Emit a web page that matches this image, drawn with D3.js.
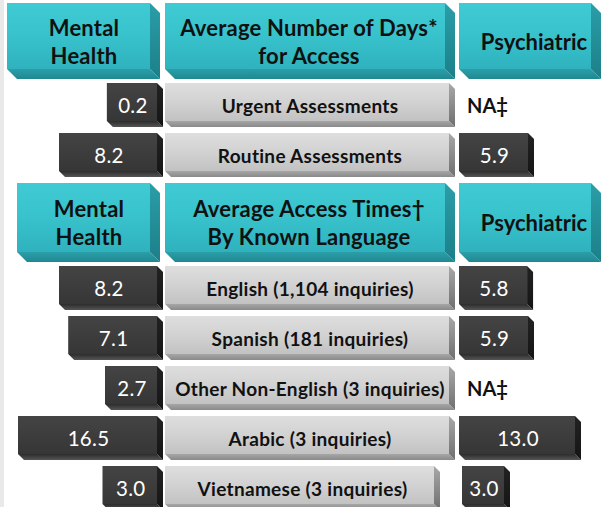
<!DOCTYPE html>
<html>
<head>
<meta charset="utf-8">
<script src="https://cdn.jsdelivr.net/npm/d3@7"></script>
<style>
html,body{margin:0;padding:0;background:#fff;}
svg{display:block;}
</style>
</head>
<body>
<svg id="chart" width="601" height="507"></svg>
<script>
// ---------- data ----------
const header1Left = ["Mental", "Health"];
const header1Mid = ["Average Number of Days*", "for Access"];
const header1Right = ["Psychiatric"];
const section1Labels = ["Urgent Assessments", "Routine Assessments"];
const section1Mental = [0.2, 8.2];
const section1Psych = [null, 5.9];

const header2Left = ["Mental", "Health"];
const header2Mid = ["Average Access Times\u2020", "By Known Language"];
const header2Right = ["Psychiatric"];
const section2Labels = ["English (1,104 inquiries)", "Spanish (181 inquiries)", "Other Non-English (3 inquiries)", "Arabic (3 inquiries)", "Vietnamese (3 inquiries)"];
const section2Mental = [8.2, 7.1, 2.7, 16.5, 3.0];
const section2Psych = [5.8, 5.9, null, 13.0, 3.0];
const naLabel = "NA\u2021";

// ---------- setup ----------
const svg = d3.select("#chart");
const defs = svg.append("defs");
const FONT = "Lato, 'Open Sans', sans-serif";

function grad(id, stops) {
  const g = defs.append("linearGradient").attr("id", id)
    .attr("x1", 0).attr("y1", 0).attr("x2", 0).attr("y2", 1);
  stops.forEach(s => g.append("stop").attr("offset", s[0]).attr("stop-color", s[1]));
}
grad("tealFront", [[0, "#40cad4"], [0.5, "#38c2cc"], [1, "#2fb2bd"]]);
grad("tealRight", [[0, "#2a9ea8"], [1, "#1c7f88"]]);
grad("tealBottom", [[0, "#2a9fa9"], [1, "#1f8891"]]);
grad("greyFront", [[0, "#dedede"], [0.5, "#d2d2d2"], [1, "#c2c2c2"]]);
grad("greyRight", [[0, "#a8a8a8"], [1, "#6f6f6f"]]);
grad("greyBottom", [[0, "#a6a6a6"], [1, "#8a8a8a"]]);
grad("darkFront", [[0, "#444444"], [1, "#363636"]]);
grad("darkRight", [[0, "#222222"], [1, "#151515"]]);
grad("darkBottom", [[0, "#2c2c2c"], [1, "#555555"]]);

const styles = {
  teal: {front: "url(#tealFront)", right: "url(#tealRight)", bottom: "url(#tealBottom)"},
  grey: {front: "url(#greyFront)", right: "url(#greyRight)", bottom: "url(#greyBottom)"},
  dark: {front: "url(#darkFront)", right: "url(#darkRight)", bottom: "url(#darkBottom)"}
};

// beveled box
function box(x0, y0, x1, y1, c, st) {
  const g = svg.append("g");
  g.append("polygon").attr("fill", st.bottom)
    .attr("points", [[x0, y1 - c], [x1 - c, y1 - c], [x1, y1], [x0 + c, y1]].join(" "));
  g.append("polygon").attr("fill", st.right)
    .attr("points", [[x1 - c, y0], [x1, y0 + c], [x1, y1], [x1 - c, y1 - c]].join(" "));
  g.append("rect").attr("x", x0).attr("y", y0).attr("width", x1 - c - x0).attr("height", y1 - c - y0)
    .attr("fill", st.front);
  return g;
}

function lines(cx, cy, arr, size, weight, color, gap, ls) {
  const n = arr.length;
  arr.forEach((t, i) => {
    svg.append("text").attr("x", cx).attr("y", cy + (i - (n - 1) / 2) * gap)
      .attr("text-anchor", "middle").attr("dominant-baseline", "central")
      .attr("font-family", FONT).attr("font-size", size).attr("font-weight", weight)
      .attr("letter-spacing", ls || 0)
      .attr("fill", color).text(t);
  });
}

// left edge strip
svg.append("rect").attr("x", 0).attr("y", 0).attr("width", 4).attr("height", 507).attr("fill", "#e9e9e9");

// ---------- scales ----------
const leftW = d3.scaleLinear().domain([0, 2.7, 8.2, 16.5]).range([56, 58, 104, 145]);
const psychW = d3.scaleLinear().domain([0, 3, 5.9, 13]).range([30, 48, 75, 122]);

const leftRight = 163, midX0 = 165, midX1 = 455, psychX0 = 459;
const rowH = 44, rowC = 6, headC = 10;

function header(y0, h, leftX0, L, M, R) {
  box(leftX0, y0, 160, y0 + h, headC, styles.teal);
  box(midX0, y0, midX1, y0 + h, headC, styles.teal);
  box(psychX0, y0, 601, y0 + h, headC, styles.teal);
  const cy = y0 + h / 2;
  lines((leftX0 + 160 - headC) / 2 + 5.5, cy, L, 22, 700, "#111", 28, 0.2);
  lines(309, cy, M, 22, 700, "#111", 28, 0.2);
  lines(534, cy, R, 22, 700, "#111", 28, 0);
}

function rows(y0, labels, mental, psych, pitch) {
  labels.forEach((lab, i) => {
    const y = y0 + i * pitch, yb = y + rowH, cy = y + rowH / 2;
    // mental value box
    const mw = leftW(mental[i]);
    box(leftRight - mw, y, leftRight, yb, rowC, styles.dark);
    lines(leftRight - mw / 2 - 2, cy, [d3.format(".1f")(mental[i])], 20.5, 400, "#fff", 0, 0.3);
    // middle label
    const mx1 = (i === labels.length - 1 && labels.length > 2) ? 440 : midX1;
    box(midX0, y, mx1, yb, rowC, styles.grey);
    lines((midX0 + mx1 - rowC) / 2 + 3, cy, [lab], 19, 700, "#111", 0, 0.3);
    // psych
    if (psych[i] == null) {
      svg.append("text").attr("x", 467).attr("y", cy).attr("dominant-baseline", "central")
        .attr("font-family", FONT).attr("font-size", 20).attr("font-weight", 700)
        .attr("fill", "#111").text(naLabel);
    } else {
      const pw = psychW(psych[i]);
      const px0 = (i === labels.length - 1 && labels.length > 2) ? psychX0 + 3 : psychX0;
      box(px0, y, px0 + pw, yb, rowC, styles.dark);
      lines(px0 + (pw - rowC) / 2 + 1, cy, [d3.format(".1f")(psych[i])], 20.5, 400, "#fff", 0, 0.3);
    }
  });
}

header(3, 76, 7, header1Left, header1Mid, header1Right);
rows(83, section1Labels, section1Mental, section1Psych, 50);
header(183, 79, 17, header2Left, header2Mid, header2Right);
rows(266, section2Labels, section2Mental, section2Psych, 50);
</script>
</body>
</html>
